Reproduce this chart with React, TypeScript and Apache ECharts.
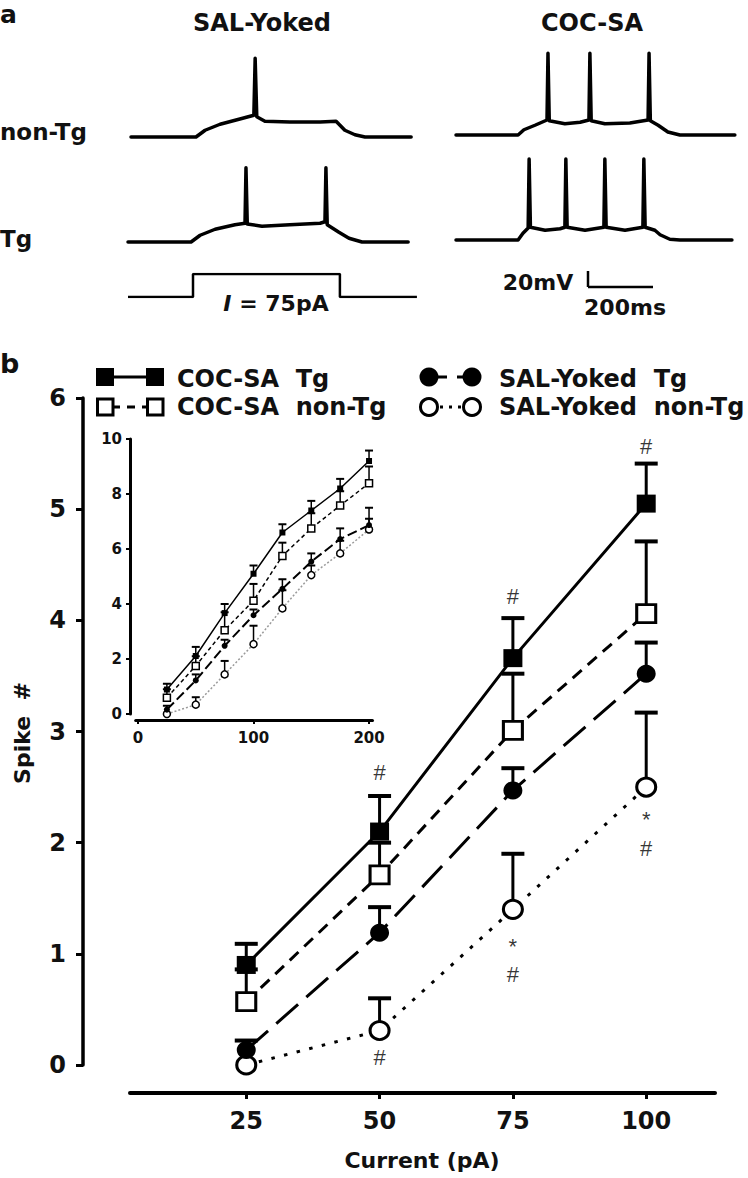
import React, { useEffect, useRef } from "react";
import * as echarts from "echarts";

// ---------------- DATA ----------------
// Panel b main chart
const currents = [25, 50, 75, 100];
const cocTg = [0.9, 2.1, 3.66, 5.05];
const cocTgErr = [1.09, 2.42, 4.02, 5.41];
const cocNonTg = [0.57, 1.71, 3.01, 4.06];
const cocNonTgErr = [0.86, 2.0, 3.52, 4.71];
const salTg = [0.135, 1.19, 2.47, 3.52];
const salTgErr = [0.22, 1.42, 2.67, 3.8];
const salNonTg = [0, 0.31, 1.4, 2.5];
const salNonTgErr = [0, 0.6, 1.9, 3.17];
const mainXTicks = [25, 50, 75, 100];

// Significance marks: [current, spike#, text]
const annotations: [number, number, string][] = [
  [50, 2.63, "#"],
  [75, 4.21, "#"],
  [100, 5.56, "#"],
  [50, 0.07, "#"],
  [75, 1.07, "*"],
  [75, 0.81, "#"],
  [100, 2.21, "*"],
  [100, 1.95, "#"],
];

// Inset
const insetCurrents = [25, 50, 75, 100, 125, 150, 175, 200];
const insetCocTg = [0.89, 2.11, 3.67, 5.1, 6.6, 7.4, 8.2, 9.2];
const insetCocTgErr = [1.1, 2.44, 4.0, 5.4, 6.9, 7.75, 8.55, 9.58];
const insetCocNonTg = [0.59, 1.75, 3.05, 4.12, 5.75, 6.75, 7.58, 8.39];
const insetCocNonTgErr = [0.9, 2.1, 3.7, 4.73, 6.23, 7.3, 8.1, 9.0];
const insetSalTg = [0.16, 1.22, 2.48, 3.59, 4.55, 5.54, 6.36, 6.87];
const insetSalTgErr = [0.3, 1.44, 2.7, 3.8, 4.9, 5.84, 6.75, 7.5];
const insetSalNonTg = [0.0, 0.34, 1.44, 2.54, 3.84, 5.05, 5.84, 6.71];
const insetSalNonTgErr = [0, 0.61, 1.93, 3.21, 4.5, 5.4, 6.3, 7.1];
const insetXTicks = [0, 100, 200];

// Panel a voltage traces: [time ms, membrane potential mV]
const salNonTgTrace = [
  [0, -70], [200, -70], [228, -61], [274, -53], [335, -46], [378, -41], [382, 35], [387, -43],
  [412, -49], [489, -50], [582, -50], [631, -49], [658, -61], [689, -67], [720, -70], [862, -70],
];
const salTgTrace = [
  [0, -70], [194, -70], [222, -61], [268, -53], [329, -47], [360, -45], [363, 29], [367, -46],
  [412, -49], [498, -47], [591, -45], [606, -43], [609, 29], [613, -47], [649, -57], [680, -65],
  [720, -70], [862, -70],
];
const cocNonTgTrace = [
  [0, -70], [191, -70], [209, -63], [243, -57], [280, -50], [283, 39], [287, -51], [335, -55],
  [382, -53], [409, -50], [412, 39], [416, -51], [458, -55], [535, -54], [591, -50], [594, 39],
  [598, -51], [622, -57], [652, -66], [689, -70], [858, -70],
];
const cocTgTrace = [
  [0, -70], [191, -70], [206, -61], [222, -54], [225, 38], [229, -53], [274, -57], [320, -55],
  [335, -53], [338, 38], [342, -53], [397, -57], [455, -53], [458, 38], [462, -53], [520, -57],
  [575, -53], [578, 38], [582, -53], [612, -57], [628, -63], [658, -69], [689, -70], [849, -70],
];
// Current injection protocol: [time ms, pA]
const stepTrace = [[0, 0], [200, 0], [200, 75], [652, 75], [652, 0], [889, 0]];

// ---------------- LAYOUT ----------------
const FONT = "'DejaVu Sans', 'Liberation Sans', sans-serif";
const PX_PER_MS = 0.325;
const PX_PER_MV = 0.75;
const MV_MIN = -80;
const MV_MAX = 50;
const traceLayout = [
  { data: salNonTgTrace, left: 131, baseline: 137 },
  { data: salTgTrace, left: 128, baseline: 242 },
  { data: cocNonTgTrace, left: 456, baseline: 135 },
  { data: cocTgTrace, left: 456, baseline: 240 },
];

function errRender(cap: number, lw: number, capLw: number) {
  return (params: any, api: any) => {
    const x = api.value(0);
    const y = api.value(1);
    const t = api.value(2);
    if (!(t > y)) return null;
    const a = api.coord([x, y]);
    const b = api.coord([x, t]);
    return {
      type: "group",
      children: [
        { type: "line", shape: { x1: a[0], y1: a[1], x2: b[0], y2: b[1] }, style: { stroke: "#000", lineWidth: lw } },
        { type: "line", shape: { x1: b[0] - cap / 2, y1: b[1], x2: b[0] + cap / 2, y2: b[1] }, style: { stroke: "#000", lineWidth: capLw } },
      ],
    };
  };
}

function buildOption() {
  const grids: any[] = [
    { left: 130, top: 398, width: 585, height: 667, outerBoundsMode: "none", containLabel: false },
    { left: 135.7, top: 439, width: 236.8, height: 275, outerBoundsMode: "none", containLabel: false },
  ];
  const xAxes: any[] = [
    {
      gridIndex: 0, type: "value", min: 3.2, max: 112.9, offset: 28, position: "bottom",
      axisLine: { show: true, onZero: false, lineStyle: { color: "#000", width: 4 } },
      axisTick: { show: true, length: 6, customValues: mainXTicks, lineStyle: { color: "#000", width: 3 } },
      axisLabel: { customValues: mainXTicks, margin: 16, fontFamily: FONT, fontWeight: "bold", fontSize: 24, color: "#111" },
      splitLine: { show: false },
    },
    {
      gridIndex: 1, type: "value", min: -2, max: 203, offset: 6, position: "bottom",
      axisLine: { show: true, onZero: false, lineStyle: { color: "#000", width: 3 } },
      axisTick: { show: true, length: 4, customValues: insetXTicks, lineStyle: { color: "#000", width: 2 } },
      axisLabel: { customValues: insetXTicks, margin: 10, fontFamily: FONT, fontWeight: "bold", fontSize: 15, color: "#111" },
      splitLine: { show: false },
    },
  ];
  const yAxes: any[] = [
    {
      gridIndex: 0, type: "value", min: 0, max: 6, interval: 1, offset: 47,
      axisLine: { show: true, onZero: false, lineStyle: { color: "#000", width: 3.5 } },
      axisTick: { show: true, length: 7, lineStyle: { color: "#000", width: 3 } },
      axisLabel: { margin: 17, fontFamily: FONT, fontWeight: "bold", fontSize: 24, color: "#111" },
      splitLine: { show: false },
    },
    {
      gridIndex: 1, type: "value", min: 0, max: 10, interval: 2, offset: 5.7,
      axisLine: { show: true, onZero: false, lineStyle: { color: "#000", width: 3 } },
      axisTick: { show: true, length: 4, lineStyle: { color: "#000", width: 2 } },
      axisLabel: { margin: 8, fontFamily: FONT, fontWeight: "bold", fontSize: 15, color: "#111" },
      splitLine: { show: false },
    },
  ];
  const series: any[] = [];

  // Panel a traces
  traceLayout.forEach((tr) => {
    const dur = tr.data[tr.data.length - 1][0];
    const gi = grids.length;
    grids.push({
      left: tr.left,
      top: tr.baseline - (MV_MAX - -70) * PX_PER_MV,
      width: dur * PX_PER_MS,
      height: (MV_MAX - MV_MIN) * PX_PER_MV,
      outerBoundsMode: "none",
    });
    xAxes.push({ gridIndex: gi, type: "value", min: 0, max: dur, show: false });
    yAxes.push({ gridIndex: gi, type: "value", min: MV_MIN, max: MV_MAX, show: false });
    series.push({
      type: "line", xAxisIndex: gi, yAxisIndex: gi, data: tr.data, showSymbol: false, symbol: "none",
      lineStyle: { color: "#000", width: 3.5, join: "round", cap: "round" }, silent: true,
    });
  });
  {
    const gi = grids.length;
    const dur = stepTrace[stepTrace.length - 1][0];
    grids.push({ left: 128, top: 274, width: dur * PX_PER_MS, height: 23, outerBoundsMode: "none" });
    xAxes.push({ gridIndex: gi, type: "value", min: 0, max: dur, show: false });
    yAxes.push({ gridIndex: gi, type: "value", min: 0, max: 75, show: false });
    series.push({
      type: "line", xAxisIndex: gi, yAxisIndex: gi, data: stepTrace, showSymbol: false, symbol: "none",
      lineStyle: { color: "#000", width: 2.5 }, silent: true,
    });
  }

  // Main error bars
  const mainErr = (vals: number[], errs: number[]) => ({
    type: "custom", xAxisIndex: 0, yAxisIndex: 0, z: 1, clip: false,
    renderItem: errRender(23, 3, 4),
    data: currents.map((c, i) => [c, vals[i], errs[i]]),
  });
  series.push(mainErr(salNonTg, salNonTgErr), mainErr(salTg, salTgErr), mainErr(cocNonTg, cocNonTgErr), mainErr(cocTg, cocTgErr));

  const mainLine = (vals: number[], symbol: string, filled: boolean, dash: any) => ({
    type: "line", xAxisIndex: 0, yAxisIndex: 0, z: 3, clip: false,
    data: currents.map((c, i) => [c, vals[i]]),
    symbol, symbolSize: [19, 18], showSymbol: true,
    itemStyle: filled ? { color: "#000", borderColor: "#000", borderWidth: 0 } : { color: "#fff", borderColor: "#000", borderWidth: 3 },
    lineStyle: { color: "#000", width: 3, type: dash },
  });
  series.push(
    mainLine(salNonTg, "circle", false, [3.5, 9.5]),
    mainLine(salTg, "circle", true, [29, 11]),
    mainLine(cocNonTg, "rect", false, [12, 8]),
    mainLine(cocTg, "rect", true, "solid"),
  );

  // Inset
  const insetErr = (vals: number[], errs: number[]) => ({
    type: "custom", xAxisIndex: 1, yAxisIndex: 1, z: 1, clip: false,
    renderItem: errRender(8, 1.5, 2),
    data: insetCurrents.map((c, i) => [c, vals[i], errs[i]]),
  });
  series.push(
    insetErr(insetSalNonTg, insetSalNonTgErr), insetErr(insetSalTg, insetSalTgErr),
    insetErr(insetCocNonTg, insetCocNonTgErr), insetErr(insetCocTg, insetCocTgErr),
  );
  const insetLine = (vals: number[], symbol: string, filled: boolean, dash: any, color: string, w: number) => ({
    type: "line", xAxisIndex: 1, yAxisIndex: 1, z: 3, clip: false,
    data: insetCurrents.map((c, i) => [c, vals[i]]),
    symbol, symbolSize: filled ? 6 : 7, showSymbol: true,
    itemStyle: filled ? { color: "#000", borderWidth: 0 } : { color: "#fff", borderColor: "#000", borderWidth: 1.5 },
    lineStyle: { color, width: w, type: dash },
  });
  series.push(
    insetLine(insetSalNonTg, "circle", false, [2, 2], "#9a9a9a", 1.5),
    insetLine(insetSalTg, "circle", true, [10, 4], "#000", 2),
    insetLine(insetCocNonTg, "rect", false, [4, 3], "#000", 1.5),
    insetLine(insetCocTg, "rect", true, "solid", "#000", 1.5),
  );

  // Significance marks
  series.push({
    type: "scatter", xAxisIndex: 0, yAxisIndex: 0, z: 4, clip: false, silent: true,
    symbol: "circle", symbolSize: 1, itemStyle: { color: "rgba(0,0,0,0)" },
    data: annotations.map((a) => [a[0], a[1], a[2]]),
    label: {
      show: true, position: "inside", formatter: (p: any) => p.value[2],
      fontFamily: "'Liberation Sans', Arial, sans-serif", fontSize: 22, color: "#000",
    },
  });

  const bold = (size: number) => `bold ${size}px ${FONT}`;
  const txt = (text: string, x: number, y: number, size: number, align = "left", extra: any = {}) => ({
    type: "text", x, y, z: 10, ...extra,
    style: { text, fill: "#111", font: bold(size), textAlign: align, textVerticalAlign: "middle" },
  });

  const graphic: any[] = [
    txt("a", 0, 14, 25),
    txt("SAL-Yoked", 262, 23, 24, "center"),
    txt("COC-SA", 592, 23, 24, "center"),
    txt("non-Tg", 0, 132, 23),
    txt("Tg", 0, 239, 23),
    {
      type: "text", x: 276, y: 303, z: 10,
      style: {
        text: "{i|I} = 75pA", fill: "#111", font: bold(22), textAlign: "center", textVerticalAlign: "middle",
        rich: { i: { fontStyle: "italic", fontWeight: "bold", fontSize: 22, fontFamily: FONT } },
      },
    },
    txt("20mV", 538, 282, 22, "center"),
    txt("200ms", 625, 307, 22, "center"),
    { type: "line", shape: { x1: 588, y1: 271, x2: 588, y2: 287 }, style: { stroke: "#000", lineWidth: 2.5 } },
    { type: "line", shape: { x1: 588, y1: 287, x2: 653, y2: 287 }, style: { stroke: "#000", lineWidth: 2.5 } },
    txt("b", 0, 363, 27),
    // legend row 1 left
    { type: "line", shape: { x1: 112, y1: 377, x2: 148, y2: 377 }, style: { stroke: "#000", lineWidth: 3 } },
    { type: "rect", shape: { x: 96, y: 368, width: 18, height: 18 }, style: { fill: "#000" } },
    { type: "rect", shape: { x: 146, y: 368, width: 18, height: 18 }, style: { fill: "#000" } },
    txt("COC-SA  Tg", 177, 379, 24),
    // legend row 2 left
    { type: "line", shape: { x1: 112, y1: 407, x2: 148, y2: 407 }, style: { stroke: "#000", lineWidth: 3, lineDash: [8, 7] } },
    { type: "rect", shape: { x: 97.5, y: 399, width: 15.5, height: 16 }, style: { fill: "#fff", stroke: "#000", lineWidth: 3 } },
    { type: "rect", shape: { x: 147.5, y: 399, width: 15.5, height: 16 }, style: { fill: "#fff", stroke: "#000", lineWidth: 3 } },
    txt("COC-SA  non-Tg", 177, 407, 24),
    // legend row 1 right
    { type: "line", shape: { x1: 436, y1: 377, x2: 466, y2: 377 }, style: { stroke: "#000", lineWidth: 3, lineDash: [11, 10] } },
    { type: "circle", shape: { cx: 429, cy: 377, r: 9.5 }, style: { fill: "#000" } },
    { type: "circle", shape: { cx: 472, cy: 377, r: 9.5 }, style: { fill: "#000" } },
    txt("SAL-Yoked  Tg", 499, 379, 24),
    // legend row 2 right
    { type: "line", shape: { x1: 440, y1: 407, x2: 462, y2: 407 }, style: { stroke: "#000", lineWidth: 3, lineDash: [3, 6] } },
    { type: "circle", shape: { cx: 429, cy: 407, r: 8.5 }, style: { fill: "#fff", stroke: "#000", lineWidth: 3 } },
    { type: "circle", shape: { cx: 472, cy: 407, r: 8.5 }, style: { fill: "#fff", stroke: "#000", lineWidth: 3 } },
    txt("SAL-Yoked  non-Tg", 499, 407, 24),
    // axis names
    txt("Current (pA)", 422, 1160, 22, "center"),
    {
      type: "text", x: 22, y: 733, rotation: Math.PI / 2, z: 10,
      style: { text: "Spike  #", fill: "#111", font: bold(22), textAlign: "center", textVerticalAlign: "middle" },
    },
  ];

  return {
    animation: false,
    backgroundColor: "#fff",
    grid: grids,
    xAxis: xAxes,
    yAxis: yAxes,
    series,
    graphic: { elements: graphic },
  };
}

export default function App() {
  const ref = useRef<HTMLDivElement>(null);
  useEffect(() => {
    document.body.style.margin = "0";
    if (!ref.current) return;
    const chart = echarts.init(ref.current, null, { renderer: "svg" });
    chart.setOption(buildOption() as any);
    return () => chart.dispose();
  }, []);
  return <div ref={ref} style={{ position: "absolute", left: 0, top: 0, width: 748, height: 1178 }} />;
}
